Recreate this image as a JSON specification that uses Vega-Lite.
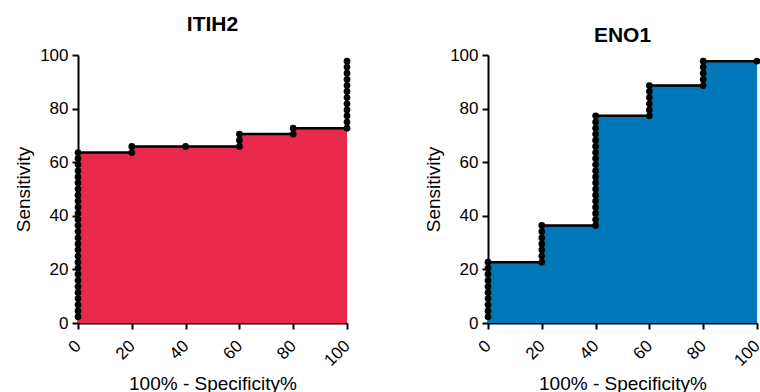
{
  "$schema": "https://vega.github.io/schema/vega-lite/v6.json",
  "padding": {"left": 14, "top": 14, "right": 0, "bottom": 0},
  "bounds": "flush",
  "spacing": 141,
  "config": {
    "font": "Liberation Sans",
    "view": {"stroke": null},
    "axis": {
      "grid": false,
      "domainColor": "black",
      "domainWidth": 2,
      "tickColor": "black",
      "tickWidth": 2,
      "tickSize": 6,
      "labelColor": "black",
      "labelFontSize": 17,
      "labelPadding": 4,
      "titleColor": "black",
      "titleFontSize": 19,
      "titleFontWeight": "normal"
    },
    "title": {"fontSize": 21, "fontWeight": "bold", "color": "black"}
  },
  "datasets": {
    "itih2": [
      {"i": 1, "x": 0, "y": 2.3}, {"i": 2, "x": 0, "y": 4.5}, {"i": 3, "x": 0, "y": 6.8}, {"i": 4, "x": 0, "y": 9.1},
      {"i": 5, "x": 0, "y": 11.4}, {"i": 6, "x": 0, "y": 13.6}, {"i": 7, "x": 0, "y": 15.9}, {"i": 8, "x": 0, "y": 18.2},
      {"i": 9, "x": 0, "y": 20.5}, {"i": 10, "x": 0, "y": 22.7}, {"i": 11, "x": 0, "y": 25.0}, {"i": 12, "x": 0, "y": 27.3},
      {"i": 13, "x": 0, "y": 29.5}, {"i": 14, "x": 0, "y": 31.8}, {"i": 15, "x": 0, "y": 34.1}, {"i": 16, "x": 0, "y": 36.4},
      {"i": 17, "x": 0, "y": 38.6}, {"i": 18, "x": 0, "y": 40.9}, {"i": 19, "x": 0, "y": 43.2}, {"i": 20, "x": 0, "y": 45.5},
      {"i": 21, "x": 0, "y": 47.7}, {"i": 22, "x": 0, "y": 50.0}, {"i": 23, "x": 0, "y": 52.3}, {"i": 24, "x": 0, "y": 54.5},
      {"i": 25, "x": 0, "y": 56.8}, {"i": 26, "x": 0, "y": 59.1}, {"i": 27, "x": 0, "y": 61.4}, {"i": 28, "x": 0, "y": 63.6},
      {"i": 29, "x": 20, "y": 63.6}, {"i": 30, "x": 20, "y": 65.9},
      {"i": 31, "x": 40, "y": 65.9},
      {"i": 32, "x": 60, "y": 65.9}, {"i": 33, "x": 60, "y": 68.2}, {"i": 34, "x": 60, "y": 70.5},
      {"i": 35, "x": 80, "y": 70.5}, {"i": 36, "x": 80, "y": 72.7},
      {"i": 37, "x": 100, "y": 72.7}, {"i": 38, "x": 100, "y": 75.0}, {"i": 39, "x": 100, "y": 77.3}, {"i": 40, "x": 100, "y": 79.5},
      {"i": 41, "x": 100, "y": 81.8}, {"i": 42, "x": 100, "y": 84.1}, {"i": 43, "x": 100, "y": 86.4}, {"i": 44, "x": 100, "y": 88.6},
      {"i": 45, "x": 100, "y": 90.9}, {"i": 46, "x": 100, "y": 93.2}, {"i": 47, "x": 100, "y": 95.5}, {"i": 48, "x": 100, "y": 97.7}
    ],
    "eno1": [
      {"i": 1, "x": 0, "y": 2.3}, {"i": 2, "x": 0, "y": 4.5}, {"i": 3, "x": 0, "y": 6.8}, {"i": 4, "x": 0, "y": 9.1},
      {"i": 5, "x": 0, "y": 11.4}, {"i": 6, "x": 0, "y": 13.6}, {"i": 7, "x": 0, "y": 15.9}, {"i": 8, "x": 0, "y": 18.2},
      {"i": 9, "x": 0, "y": 20.5}, {"i": 10, "x": 0, "y": 22.7},
      {"i": 11, "x": 20, "y": 22.7}, {"i": 12, "x": 20, "y": 25.0}, {"i": 13, "x": 20, "y": 27.3}, {"i": 14, "x": 20, "y": 29.5},
      {"i": 15, "x": 20, "y": 31.8}, {"i": 16, "x": 20, "y": 34.1}, {"i": 17, "x": 20, "y": 36.4},
      {"i": 18, "x": 40, "y": 36.4}, {"i": 19, "x": 40, "y": 38.6}, {"i": 20, "x": 40, "y": 40.9}, {"i": 21, "x": 40, "y": 43.2},
      {"i": 22, "x": 40, "y": 45.5}, {"i": 23, "x": 40, "y": 47.7}, {"i": 24, "x": 40, "y": 50.0}, {"i": 25, "x": 40, "y": 52.3},
      {"i": 26, "x": 40, "y": 54.5}, {"i": 27, "x": 40, "y": 56.8}, {"i": 28, "x": 40, "y": 59.1}, {"i": 29, "x": 40, "y": 61.4},
      {"i": 30, "x": 40, "y": 63.6}, {"i": 31, "x": 40, "y": 65.9}, {"i": 32, "x": 40, "y": 68.2}, {"i": 33, "x": 40, "y": 70.5},
      {"i": 34, "x": 40, "y": 72.7}, {"i": 35, "x": 40, "y": 75.0}, {"i": 36, "x": 40, "y": 77.3},
      {"i": 37, "x": 60, "y": 77.3}, {"i": 38, "x": 60, "y": 79.5}, {"i": 39, "x": 60, "y": 81.8}, {"i": 40, "x": 60, "y": 84.1},
      {"i": 41, "x": 60, "y": 86.4}, {"i": 42, "x": 60, "y": 88.6},
      {"i": 43, "x": 80, "y": 88.6}, {"i": 44, "x": 80, "y": 90.9}, {"i": 45, "x": 80, "y": 93.2}, {"i": 46, "x": 80, "y": 95.5},
      {"i": 47, "x": 80, "y": 97.7},
      {"i": 48, "x": 100, "y": 97.7}
    ]
  },
  "hconcat": [
    {
      "width": 269,
      "height": 268,
      "title": {"text": "ITIH2", "offset": 11},
      "data": {"name": "itih2"},
      "encoding": {
        "x": {"field": "x", "type": "quantitative", "scale": {"domain": [0, 100], "nice": false},
              "axis": {"values": [0, 20, 40, 60, 80, 100], "labelAngle": -45, "labelAlign": "right", "labelBaseline": "middle", "labelPadding": 14, "title": "100% - Specificity%", "titlePadding": 6}},
        "y": {"field": "y", "type": "quantitative", "stack": null, "scale": {"domain": [0, 100], "nice": false},
              "axis": {"values": [0, 20, 40, 60, 80, 100], "title": "Sensitivity", "titlePadding": 6}}
      },
      "layer": [
        {"mark": {"type": "area", "color": "#E8294B", "opacity": 1}},
        {"mark": {"type": "line", "color": "black", "strokeWidth": 2.5}, "encoding": {"order": {"field": "i", "type": "quantitative"}}},
        {"mark": {"type": "point", "filled": true, "color": "black", "opacity": 1, "size": 45}}
      ]
    },
    {
      "width": 269,
      "height": 268,
      "title": {"text": "ENO1", "offset": 0},
      "data": {"name": "eno1"},
      "encoding": {
        "x": {"field": "x", "type": "quantitative", "scale": {"domain": [0, 100], "nice": false},
              "axis": {"values": [0, 20, 40, 60, 80, 100], "labelAngle": -45, "labelAlign": "right", "labelBaseline": "middle", "labelPadding": 14, "title": "100% - Specificity%", "titlePadding": 6}},
        "y": {"field": "y", "type": "quantitative", "stack": null, "scale": {"domain": [0, 100], "nice": false},
              "axis": {"values": [0, 20, 40, 60, 80, 100], "title": "Sensitivity", "titlePadding": 6}}
      },
      "layer": [
        {"mark": {"type": "area", "color": "#0077B9", "opacity": 1}},
        {"mark": {"type": "line", "color": "black", "strokeWidth": 2.5}, "encoding": {"order": {"field": "i", "type": "quantitative"}}},
        {"mark": {"type": "point", "filled": true, "color": "black", "opacity": 1, "size": 45}}
      ]
    }
  ]
}
